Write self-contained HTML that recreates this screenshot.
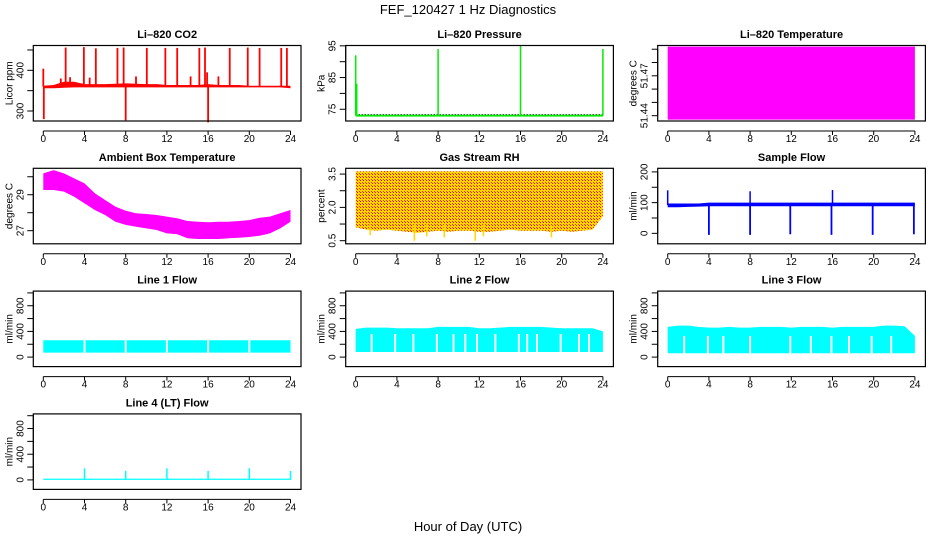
<!DOCTYPE html>
<html><head><meta charset="utf-8"><title>FEF_120427 1 Hz Diagnostics</title>
<style>
html,body{margin:0;padding:0;background:#fff;}
svg{display:block;font-family:"Liberation Sans",sans-serif;}
</style></head>
<body>
<svg id="chart" width="936" height="540" viewBox="0 0 936 540" xmlns="http://www.w3.org/2000/svg">
<defs>
<pattern id="rhpat" width="3" height="3" patternUnits="userSpaceOnUse">
<rect width="3" height="3" fill="#ffd700"/><rect x="0" y="0" width="1" height="1" fill="#ff0000"/><rect x="2" y="2" width="1" height="1" fill="#ff3000"/>
</pattern>
</defs>
<text x="468" y="14" text-anchor="middle" font-size="13">FEF_120427  1 Hz Diagnostics</text>
<text x="468" y="531" text-anchor="middle" font-size="13">Hour of Day (UTC)</text>
</svg>
<script>
// ---- data arrays ----
const hours = [0,1,2,3,4,5,6,7,8,9,10,11,12,13,14,15,16,17,18,19,20,21,22,23,24];
const xTicks = [0,4,8,12,16,20,24];

const co2Lo = [356,356,357,358,358,358,358,358,358,358,358,358,358,358,358,358,358,358,358,358,358,358,358,358,356];
const co2Hi = [362,364,372,372,366,366,366,367,368,367,366,366,364,364,364,364,366,364,364,364,362,362,362,362,362];
const co2SpikeT = [2.17,3.94,5.1,7.2,7.8,10.05,11.85,13.0,15.15,15.7,18.1,19.85,21.0,23.1,23.65,0.05,8.0,16.0,0.0,1.7,2.6,4.5,9.0,14.3,15.9,17.0];
const co2SpikeV = [456,457,454,455,456,455,455,455,455,456,455,456,455,455,455,280,277,272,404,380,383,382,385,385,395,385];

const presBase = 73;
const presSpikeT = [0.0,0.1,8.0,16.0,24.0];
const presSpikeV = [92,83,94,95,94];

const tempLo = 51.437, tempHi = 51.492;

const ambHi = [30.19,30.37,30.19,29.91,29.63,29.08,28.71,28.34,28.11,27.97,27.93,27.87,27.78,27.69,27.54,27.5,27.47,27.5,27.5,27.54,27.59,27.72,27.78,27.97,28.15];
const ambLo = [29.26,29.26,29.17,28.89,28.52,28.15,27.87,27.5,27.32,27.22,27.13,27.04,26.85,26.8,26.58,26.54,26.54,26.54,26.58,26.61,26.65,26.72,26.85,27.13,27.5];

const rhHi = [3.62,3.62,3.62,3.64,3.62,3.62,3.62,3.62,3.62,3.62,3.62,3.62,3.62,3.62,3.62,3.62,3.62,3.62,3.64,3.62,3.62,3.62,3.62,3.62,3.62];
const rhLo = [1.1,1.0,0.95,1.0,0.95,0.9,0.85,0.9,0.95,0.9,0.95,0.95,0.9,0.9,0.95,1.0,0.95,0.95,0.95,0.9,0.95,0.9,0.95,1.0,1.6];
const rhDipT = [1.4,5.7,6.9,8.6,11.6,12.4,19.0];
const rhDipV = [0.75,0.5,0.7,0.65,0.5,0.7,0.65];

const sfLo = [85,85,86,87,88,88,88,88,88,88,88,88,88,88,88,88,88,88,88,88,88,88,88,88,88];
const sfHi = [97,97,97,97,100,100,100,100,100,100,100,100,100,100,100,100,100,100,100,100,100,100,100,100,100];
const sfDipT = [4.0,8.0,11.9,15.9,19.9,23.9];
const sfDipV = [-5,-5,-3,-5,-5,-3];
const sfUpT = [0.0,8.0,16.0];
const sfUpV = [140,137,141];

const l1Lo = 70, l1Hi = 262;
const l1Gaps = [4.0,8.0,12.0,16.0,20.0];
const l2Lo = 80, l2Hi = [440,460,460,460,450,450,450,450,470,470,470,470,450,450,460,470,470,470,470,460,450,450,450,450,400];
const l2Gaps = [1.55,3.83,5.6,7.88,9.5,10.64,11.78,13.56,15.84,16.65,17.6,19.9,21.68,22.65];
const l3Lo = 60, l3Hi = [470,490,490,470,460,460,470,460,460,470,470,470,460,470,470,470,460,470,470,470,470,490,490,480,330];
const l3Gaps = [1.6,3.9,5.4,8.0,11.9,13.9,15.9,17.6,19.8,21.7];
const l4Base = 20;
const l4SpikeT = [4.0,8.0,12.0,16.0,20.0,24.0];
const l4SpikeV = [180,140,180,140,180,140];

// ---- layout ----
const NS = "http://www.w3.org/2000/svg";
const svg = document.getElementById('chart');
const colX0 = [43.3, 355.7, 667.7];
const HSCALE = 10.3;
function mk(tag, attrs, parent){
  const e = document.createElementNS(NS, tag);
  for (const k in attrs) e.setAttribute(k, attrs[k]);
  (parent||svg).appendChild(e);
  return e;
}
function panel(name, col, row, title, ylab, vTop, vBot, ticks, labels){
  const g = mk('g', {});
  
  
  const x0 = colX0[col];
  const top = 45.5 + 122.8*row, bot = top + 75.5;
  const left = x0 - 10, right = x0 + 257.7;
  const X = t => x0 + t*HSCALE;
  const Y = v => top + (vTop - v)/(vTop - vBot)*(bot - top);
  const plot = mk('g', {}, g);
  
  
  const box = mk('rect', {x:left, y:top, width:right-left, height:bot-top, fill:'none', stroke:'#000', 'stroke-width':1.2}, g);
  
  
  const tt = mk('text', {x:(left+right)/2, y:top-7.5, 'text-anchor':'middle', 'font-size':11, 'font-weight':'bold'}, g);
  tt.textContent = title;
  
  
  const yl = mk('text', {x:0, y:0, transform:`translate(${left-21},${(top+bot)/2}) rotate(-90)`, 'text-anchor':'middle', 'font-size':10}, g);
  yl.textContent = ylab;
  
  
  // x axis
  const ax = mk('g', {stroke:'#000', 'stroke-width':1}, g);
  
  
  mk('line', {x1:X(0), x2:X(24), y1:bot+10, y2:bot+10}, ax);
  xTicks.forEach(t => {
    mk('line', {x1:X(t), x2:X(t), y1:bot+10, y2:bot+14}, ax);
    const lb = mk('text', {x:X(t), y:bot+21, 'text-anchor':'middle', 'font-size':10, stroke:'none', fill:'#000'}, g);
    lb.textContent = t;
    
    
  });
  // y axis
  const ay = mk('g', {stroke:'#000', 'stroke-width':1}, g);
  
  
  mk('line', {x1:left, x2:left, y1:Y(ticks[0]), y2:Y(ticks[ticks.length-1])}, ay);
  ticks.forEach((v,i) => {
    mk('line', {x1:left-6, x2:left, y1:Y(v), y2:Y(v)}, ay);
    if (labels[i] !== '') {
      const lb = mk('text', {x:0, y:0, transform:`translate(${left-10},${Y(v)}) rotate(-90)`, 'text-anchor':'middle', 'font-size':10}, g);
      lb.textContent = labels[i];
      
      
    }
  });
  return {X, Y, g:plot, top, bot};
}
function band(p, lo, hi, fill, name){
  const loA = Array.isArray(lo) ? lo : hours.map(()=>lo);
  const hiA = Array.isArray(hi) ? hi : hours.map(()=>hi);
  let d = 'M' + hours.map((t,i)=>p.X(t)+','+p.Y(hiA[i])).join('L');
  d += 'L' + hours.slice().reverse().map((t,k)=>p.X(t)+','+p.Y(loA[hours.length-1-k])).join('L') + 'Z';
  const e = mk('path', {d, fill, stroke:'none'}, p.g);
  
  
}
function spikes(p, ts, vs, base, color, w, name){
  ts.forEach((t,i) => {
    const e = mk('line', {x1:p.X(t), x2:p.X(t), y1:p.Y(base), y2:p.Y(vs[i]), stroke:color, 'stroke-width':w}, p.g);
    
    
  });
}
function gaps(p, ts, lo, hi, name){
  ts.forEach(t => {
    const e = mk('rect', {x:p.X(t)-1, y:p.Y(hi), width:2, height:p.Y(lo)-p.Y(hi), fill:'#fff'}, p.g);
    
    
  });
}

// Li-820 CO2
let p = panel('co2', 0, 0, 'Li\u2013820 CO2', 'Licor ppm', 461, 275.4, [300,350,400,450], ['300','','400','']);
spikes(p, co2SpikeT, co2SpikeV, 360, '#ff0000', 1.8, 'co2-spike');
band(p, co2Lo, co2Hi, '#ff0000', 'co2-band');

// Pressure
p = panel('pressure', 1, 0, 'Li\u2013820 Pressure', 'kPa', 95.1, 71.3, [75,80,85,90,95], ['75','','85','','95']);
{
  const e = mk('line', {x1:p.X(0), x2:p.X(24), y1:p.Y(presBase), y2:p.Y(presBase), stroke:'#00ee00', 'stroke-width':2}, p.g);
  
  
  const e2 = mk('line', {x1:p.X(0), x2:p.X(24), y1:p.Y(presBase)-1, y2:p.Y(presBase)-1, stroke:'#000', 'stroke-width':1, 'stroke-dasharray':'1 2'}, p.g);
  
  
}
spikes(p, presSpikeT, presSpikeV, presBase, '#00ee00', 1.5, 'pressure-spike');

// Temperature
p = panel('li820-temp', 2, 0, 'Li\u2013820 Temperature', 'degrees C', 51.4928, 51.436, [51.44,51.45,51.46,51.47,51.48,51.49], ['51.44','','','51.47','','']);
band(p, tempLo, tempHi, '#ff00ff', 'li820-temp-band');

// Ambient
p = panel('ambient', 0, 1, 'Ambient Box Temperature', 'degrees C', 30.47, 26.27, [27,28,29,30], ['27','','29','']);
band(p, ambLo, ambHi, '#ff00ff', 'ambient-band');

// RH
p = panel('rh', 1, 1, 'Gas Stream RH', 'percent', 3.76, 0.36, [0.5,1.25,2.0,2.75,3.5], ['0.5','','2.0','','3.5']);
band(p, rhLo, rhHi, 'url(#rhpat)', 'rh-band');
spikes(p, rhDipT, rhDipV, 1.2, '#ffd700', 1.5, 'rh-dip');

// Sample flow
p = panel('sample-flow', 2, 1, 'Sample Flow', 'ml/min', 211.7, -34, [0,50,100,150,200], ['0','','100','','200']);
spikes(p, sfDipT, sfDipV, 92, '#0000ff', 1.8, 'sample-flow-dip');
spikes(p, sfUpT, sfUpV, 92, '#0000ff', 1.5, 'sample-flow-spike');
band(p, sfLo, sfHi, '#0000ff', 'sample-flow-band');

const flowTicks = [0,200,400,600,800,1000];
const flowLabels = ['0','','400','','800',''];
// Line 1
p = panel('line1', 0, 2, 'Line 1 Flow', 'ml/min', 1028, -148, flowTicks, flowLabels);
band(p, l1Lo, l1Hi, '#00ffff', 'line1-band');
gaps(p, l1Gaps, l1Lo, l1Hi, 'line1-gap');
// Line 2
p = panel('line2', 1, 2, 'Line 2 Flow', 'ml/min', 1028, -148, flowTicks, flowLabels);
band(p, l2Lo, l2Hi, '#00ffff', 'line2-band');
gaps(p, l2Gaps, l2Lo, 360, 'line2-gap');
// Line 3
p = panel('line3', 2, 2, 'Line 3 Flow', 'ml/min', 1028, -148, flowTicks, flowLabels);
band(p, l3Lo, l3Hi, '#00ffff', 'line3-band');
gaps(p, l3Gaps, l3Lo, 330, 'line3-gap');
// Line 4
p = panel('line4', 0, 3, 'Line 4 (LT) Flow', 'ml/min', 1028, -148, flowTicks, flowLabels);
band(p, 0, l4Base, '#00ffff', 'line4-band');
spikes(p, l4SpikeT, l4SpikeV, 0, '#00ffff', 1.5, 'line4-spike');
</script>
</body></html>
